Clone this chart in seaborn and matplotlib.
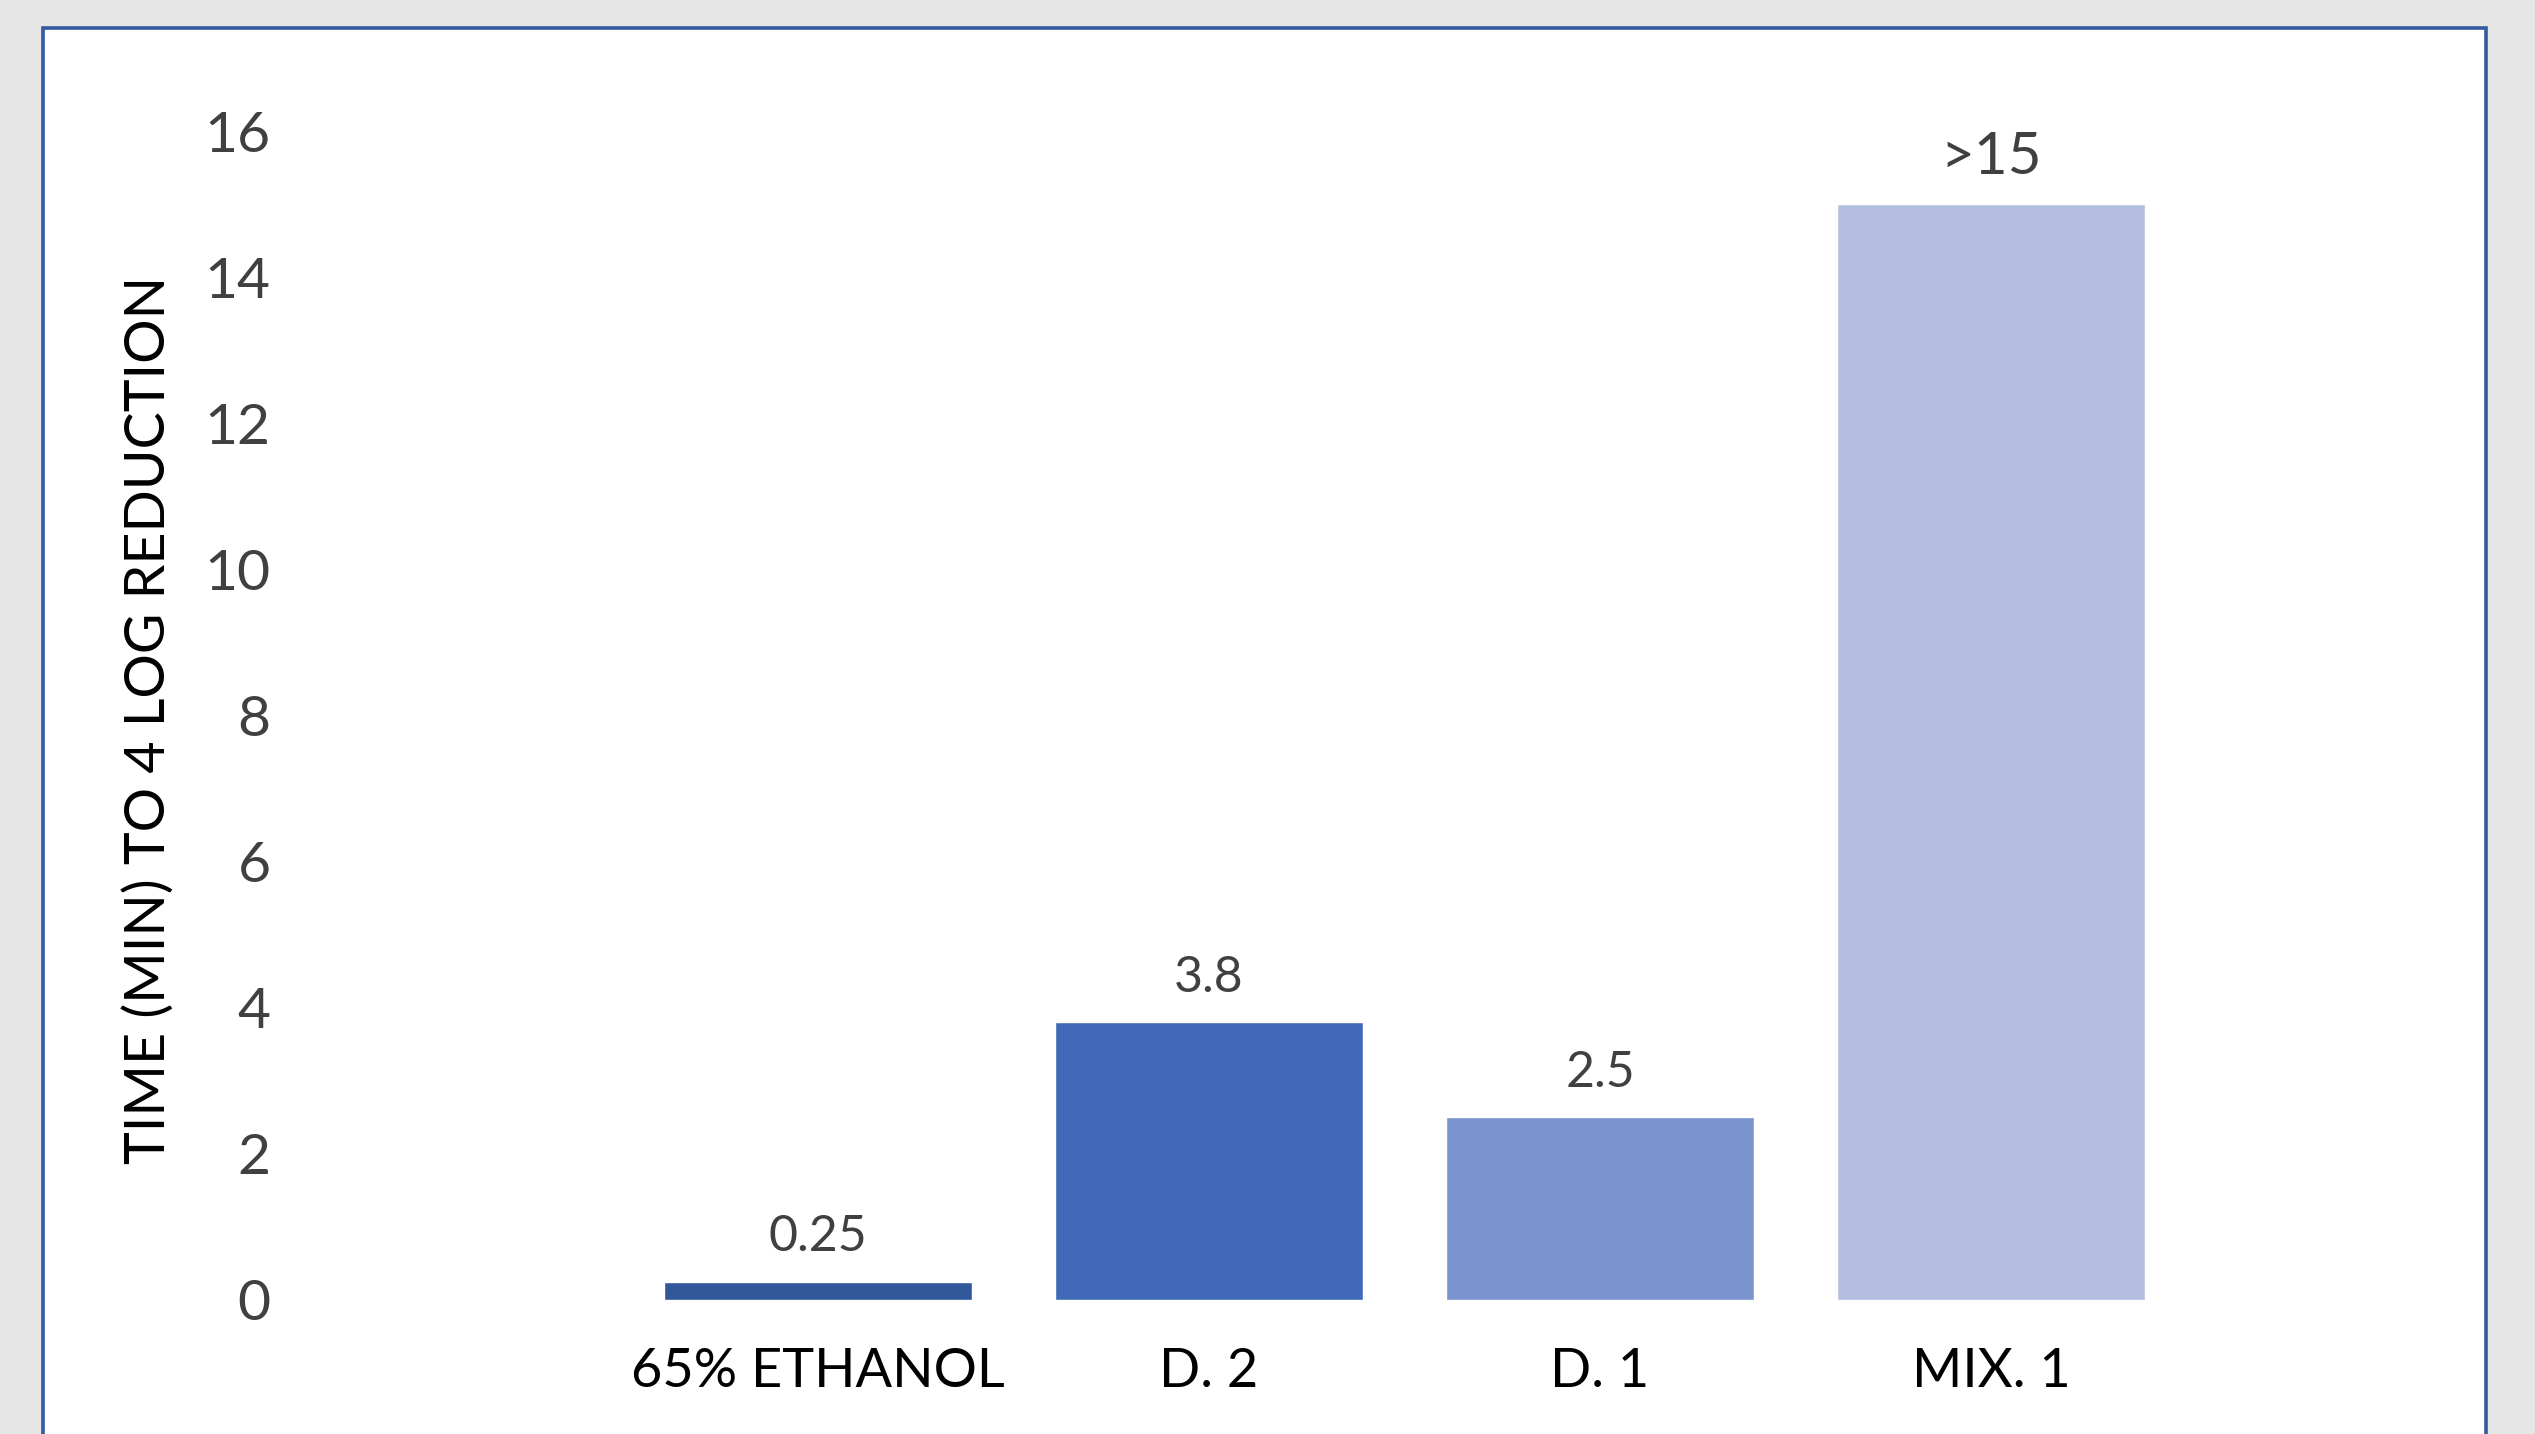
import matplotlib
matplotlib.use("Agg")
import matplotlib.pyplot as plt
from matplotlib.patches import Rectangle
import seaborn as sns
import pandas as pd

# ---- data ----
categories = ["65% ETHANOL", "D. 2", "D. 1", "MIX. 1"]
values = [0.25, 3.8, 2.5, 15]
value_labels = ["0.25", "3.8", "2.5", ">15"]
bar_colors = ["#30589a", "#406ab7", "#7b93cf", "#b4bfdf"]
y_ticks = [0, 2, 4, 6, 8, 10, 12, 14, 16]
y_label = "TIME (MIN) TO 4 LOG REDUCTION"

df = pd.DataFrame({"cat": categories, "val": values})

sns.set_theme(style="white")
plt.rcParams["font.family"] = ["Lato", "DejaVu Sans"]

W, H = 2535, 1434
fig = plt.figure(figsize=(W / 100, H / 100), dpi=100)
fig.patch.set_facecolor("#e6e6e6")

# white card with blue border
card = Rectangle((43 / W, -0.05), (2486 - 43) / W, (H - 28) / H + 0.05,
                 transform=fig.transFigure, facecolor="white",
                 edgecolor="#3459a0", linewidth=2.6, zorder=-5)
fig.patches.append(card)

left_px, right_px = 290, 2400
ax = fig.add_axes([left_px / W, (H - 1300) / H, (right_px - left_px) / W, (1300 - 131) / H])
ax.set_facecolor("none")
ax.set_zorder(2)

sns.barplot(data=df, x="cat", y="val", hue="cat", palette=bar_colors,
            order=categories, hue_order=categories, width=0.79,
            saturation=1, legend=False, ax=ax)

ax.set_ylim(0, 16)
ax.set_xlim((left_px - 818) / 391, (right_px - 818) / 391)
ax.set_yticks(y_ticks)
ax.set_yticklabels([str(t) for t in y_ticks])
for s in ax.spines.values():
    s.set_visible(False)
ax.grid(False)
ax.tick_params(axis="y", length=0, pad=14, labelsize=41, labelcolor="#404040")
ax.tick_params(axis="x", length=0, pad=34, labelsize=39, labelcolor="black")
ax.set_xlabel("")
ax.set_ylabel(y_label, fontsize=40, color="black")
ax.yaxis.label.set_va("center")
ax.yaxis.set_label_coords((149 - left_px) / (right_px - left_px), (1300 - 720) / (1300 - 131))

for i, (v, lab) in enumerate(zip(values, value_labels)):
    fs = 42 if lab.startswith(">") else 36
    ax.annotate(lab, xy=(i, v), xytext=(0, 22), textcoords="offset points",
                ha="center", va="baseline", fontsize=fs, color="#404040")

fig.savefig("out.png", dpi=100, facecolor=fig.get_facecolor())
